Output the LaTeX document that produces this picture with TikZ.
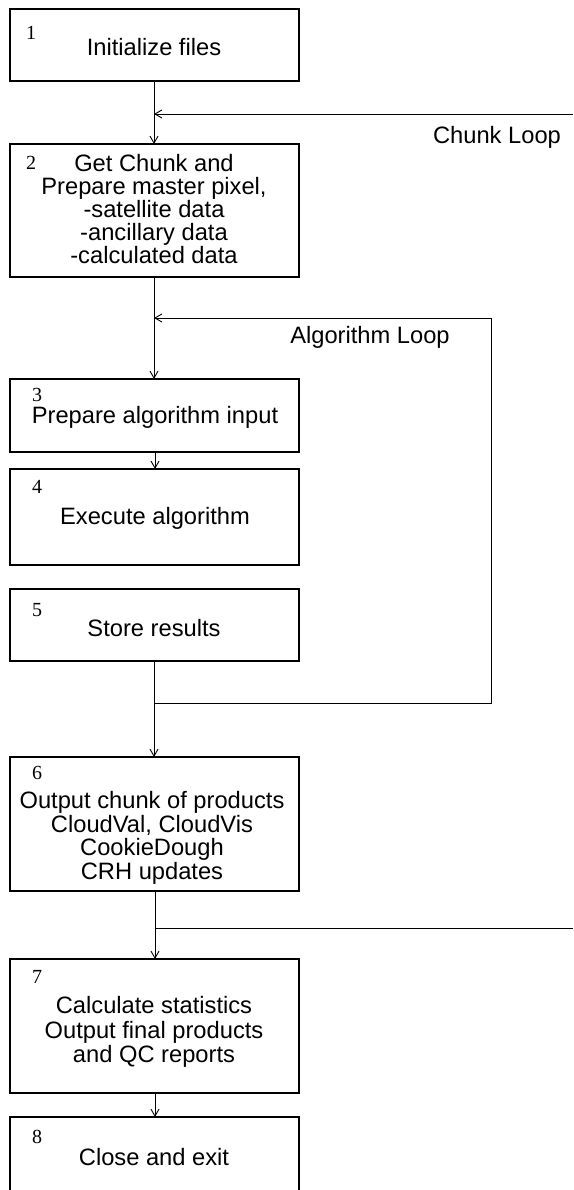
\documentclass[tikz,border=0pt]{standalone}
\usepackage{fontspec}
\setmainfont{Liberation Sans}
\newfontfamily\stepnumfont{Liberation Serif}
\usetikzlibrary{arrows.meta}
\begin{document}
\begin{tikzpicture}[x=1pt,y=-1pt,
  box/.style={draw, line width=1.1pt, minimum width=289pt, inner sep=0pt,
              outer sep=0pt, anchor=north west},
  txt/.style={font=\fontsize{23.7}{24}\selectfont, align=center, inner sep=0pt},
  num/.style={font=\stepnumfont\fontsize{20}{20}\selectfont, inner sep=0pt},
  conn/.style={line width=0.9pt},
  arr/.style={conn, -{Straight Barb[length=7pt,width=8pt]}}
]
\useasboundingbox (0,0) rectangle (573,1190);
\clip (0,0) rectangle (573,1190);

% process boxes
\node[box, minimum height=72pt]  (b1) at (10,9)    {};
\node[box, minimum height=133pt] (b2) at (10,144)  {};
\node[box, minimum height=73pt]  (b3) at (10,379)  {};
\node[box, minimum height=96pt]  (b4) at (10,469)  {};
\node[box, minimum height=72pt]  (b5) at (10,589)  {};
\node[box, minimum height=134pt] (b6) at (10,757)  {};
\node[box, minimum height=134pt] (b7) at (10,959)  {};
\node[box, minimum height=96pt]  (b8) at (10,1117) {};

% step numbers
\node[num] (n1) at (31,33)   {1};
\node[num] (n2) at (31,163)  {2};
\node[num] (n3) at (37,395)  {3};
\node[num] (n4) at (37,487)  {4};
\node[num] (n5) at (37,610)  {5};
\node[num] (n6) at (37,773)  {6};
\node[num] (n7) at (37,977)  {7};
\node[num] (n8) at (37,1137) {8};

% step descriptions
\node[txt] (t1) at (154,47)  {Initialize files};
\node[txt, font=\fontsize{23.7}{23}\selectfont] (t2) at (154,209)
  {Get Chunk and\\Prepare master pixel,\\-satellite data\\-ancillary data\\-calculated data};
\node[txt] (t3) at (155,417)  {Prepare algorithm input};
\node[txt] (t4) at (155,518)  {Execute algorithm};
\node[txt] (t5) at (154,628)  {Store results};
\node[txt, font=\fontsize{23.7}{23.7}\selectfont] (t6) at (152,838)
  {Output chunk of products\\CloudVal, CloudVis\\CookieDough\\CRH updates};
\node[txt, font=\fontsize{23.7}{24.5}\selectfont] (t7) at (154,1032)
  {Calculate statistics\\Output final products\\and QC reports};
\node[txt] (t8) at (154,1157) {Close and exit};

% loop labels
\node[txt] (chunkLbl) at (497,137) {Chunk Loop};
\node[txt] (algLbl)   at (370,337) {Algorithm Loop};

% loop end points
\coordinate (chunkIn)  at (573,114);
\coordinate (chunkOut) at (573,928);
\coordinate (algCorner) at (491,318);
\coordinate (algJoin)   at (154,703);

% main flow
\draw[arr] (b1.south -| 154,0) -- (b2.north -| 154,0);
\draw[arr] (b2.south -| 154,0) -- (b3.north -| 154,0);
\draw[arr] (b3.south -| 155,0) -- (b4.north -| 155,0);
\draw[arr] (b5.south -| 154,0) -- (b6.north -| 154,0);
\draw[arr] (b6.south -| 155,0) -- (b7.north -| 155,0);
\draw[arr] (b7.south -| 155,0) -- (b8.north -| 155,0);

% chunk loop
\draw[arr] (chunkIn) -- (chunkIn -| 154,0);
\draw[conn] (chunkOut -| 155,0) -- (chunkOut);

% algorithm loop
\draw[arr] (algJoin) -| (algCorner) -- (algCorner -| 154,0);
\end{tikzpicture}
\end{document}
